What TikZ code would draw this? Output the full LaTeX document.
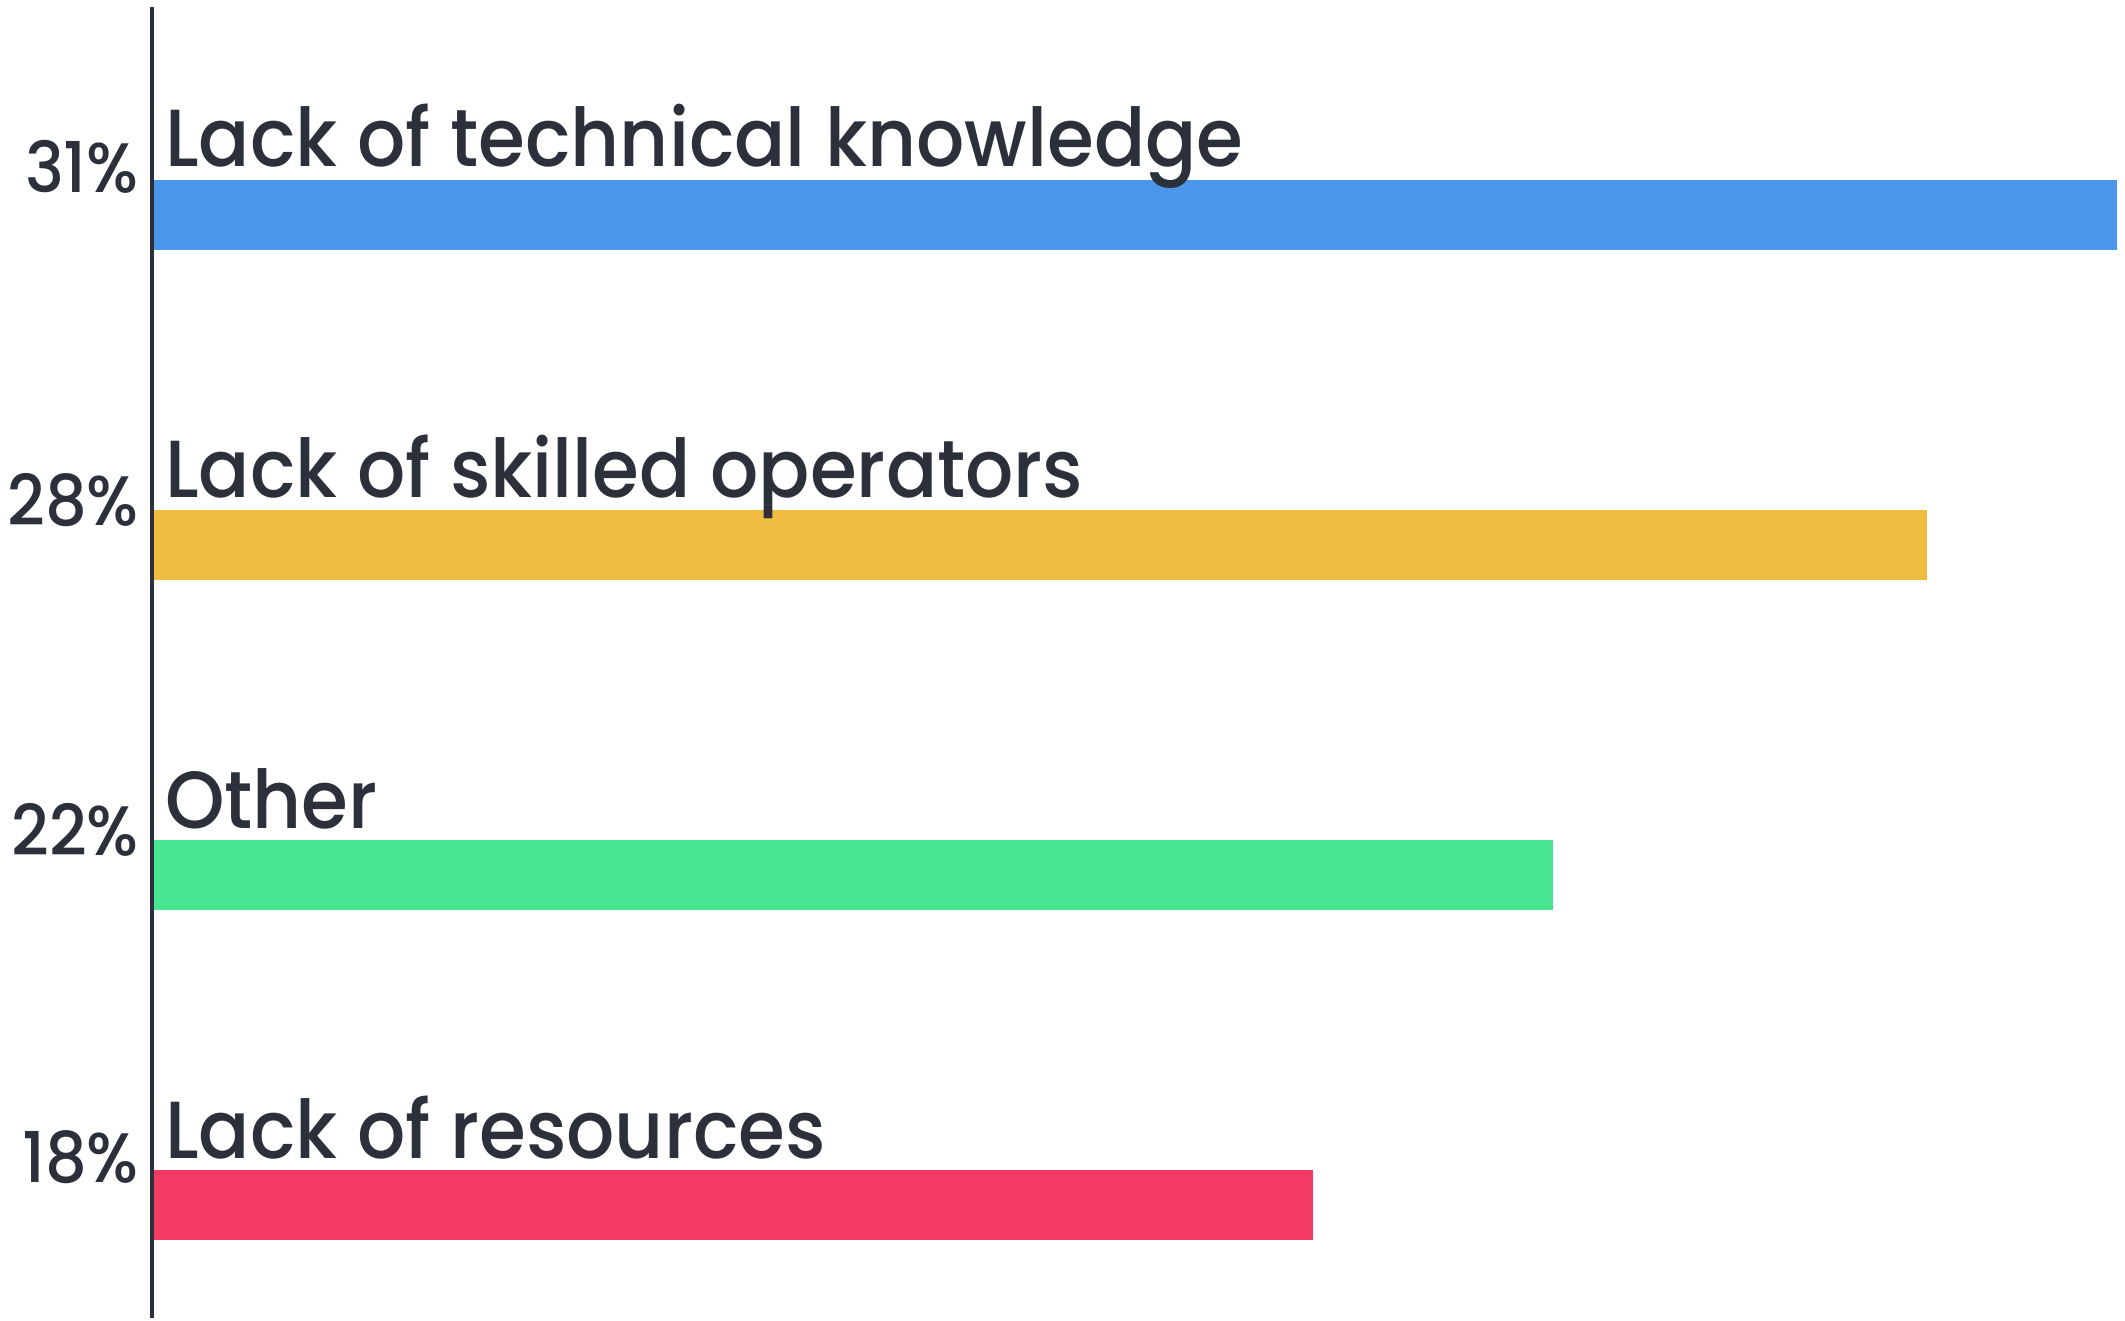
\documentclass[tikz,border=0pt]{standalone}
\usepackage{fontspec}
\setmainfont{Poppins}[UprightFont={* Medium},FakeStretch=0.935]
\definecolor{txt}{HTML}{2B303B}
\definecolor{cblue}{HTML}{4A96EA}
\definecolor{cyellow}{HTML}{F0BC3F}
\definecolor{cgreen}{HTML}{48E590}
\definecolor{cred}{HTML}{F23A65}
\begin{document}
\begin{tikzpicture}[x=1pt,y=-1pt,
  catlabel/.style={anchor=base west,inner sep=0pt,text=txt,font=\fontsize{81}{90}\selectfont},
  pctlabel/.style={anchor=base east,inner sep=0pt,text=txt,font=\fontsize{70}{80}\selectfont}]
\useasboundingbox[fill=white] (0,0) rectangle (2125,1321);
% bars
\fill[cblue]   (153,180)  rectangle (2117,250);
\fill[cyellow] (153,510)  rectangle (1927,580);
\fill[cgreen]  (153,840)  rectangle (1553,910);
\fill[cred]    (153,1170) rectangle (1313,1240);
% axis
\draw[txt,line width=3.5pt] (152,7) -- (152,1318);
% labels
\node[catlabel] (l1) at (165,167) {Lack of technical knowledge};
\node[catlabel] (l2) at (165,497) {Lack of skilled operators};
\node[catlabel] (l3) at (165,828) {Other};
\node[catlabel] (l4) at (165,1158) {Lack of resources};
\node[pctlabel] (p1) at (139,193) {31\%};
\node[pctlabel] (p2) at (139,525) {28\%};
\node[pctlabel] (p3) at (139,855) {22\%};
\node[pctlabel] (p4) at (139,1182) {18\%};
\end{tikzpicture}
\end{document}
